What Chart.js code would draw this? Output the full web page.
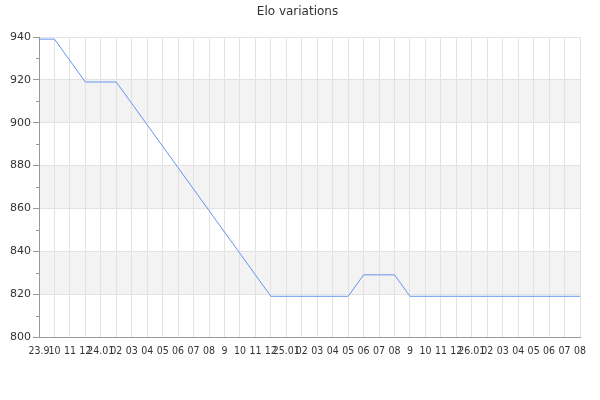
<!DOCTYPE html>
<html lang="en">
<head>
    <meta charset="UTF-8">
    <title>Elo variations</title>
    <style>
        body { margin: 0; padding: 0; background: #fff; }
        #wrap { width: 600px; height: 400px; }
    </style>
</head>
<body>
    <div id="wrap"><canvas id="eloChart" width="600" height="400"></canvas></div>
    <script src="https://cdn.jsdelivr.net/npm/chart.js"></script>
    <script>
        const months = ['23.9', '10', '11', '12', '24.01', '02', '03', '04', '05', '06', '07', '08',
            '9', '10', '11', '12', '25.01', '02', '03', '04', '05', '06', '07', '08',
            '9', '10', '11', '12', '26.01', '02', '03', '04', '05', '06', '07', '08'];
        const elo = [939, 939, 929, 919, 919, 919, 909, 899, 889, 879, 869, 859,
            849, 839, 829, 819, 819, 819, 819, 819, 819, 829, 829, 829,
            819, 819, 819, 819, 819, 819, 819, 819, 819, 819, 819, 819];
        const yMin = 800;
        const yMax = 940;
        const bands = [[820, 840], [860, 880], [900, 920]];

        // grey bands + short minor ticks on the y axis
        const bandPlugin = {
            id: 'bands',
            afterLayout(chart) {
                // title sits a little right of the plot-width centre
                if (chart.titleBlock) chart.titleBlock.left += 15;
            },
            beforeDraw(chart) {
                const { ctx, chartArea, scales } = chart;
                ctx.save();
                ctx.fillStyle = '#f3f3f3';
                bands.forEach(b => {
                    const top = scales.y.getPixelForValue(b[1]);
                    const bottom = scales.y.getPixelForValue(b[0]);
                    ctx.fillRect(chartArea.left, top, chartArea.right - chartArea.left, bottom - top);
                });
                ctx.restore();
            },
            afterDraw(chart) {
                const { ctx, chartArea, scales } = chart;
                ctx.save();
                ctx.strokeStyle = '#999';
                ctx.lineWidth = 1;
                scales.y.ticks.forEach(t => {
                    if (t.value % 20 !== 0) {
                        const y = Math.round(scales.y.getPixelForValue(t.value)) + 0.5;
                        ctx.beginPath();
                        ctx.moveTo(chartArea.left - 3, y);
                        ctx.lineTo(chartArea.left, y);
                        ctx.stroke();
                    }
                });
                ctx.restore();
            }
        };

        new Chart(document.getElementById('eloChart'), {
            type: 'line',
            data: {
                labels: months,
                datasets: [{
                    label: 'Elo',
                    data: elo,
                    borderColor: '#6495ed',
                    borderWidth: 1,
                    pointRadius: 0,
                    tension: 0,
                    fill: false
                }]
            },
            options: {
                responsive: false,
                animation: false,
                layout: { padding: { left: 0, right: 20, top: 0, bottom: 0 } },
                plugins: {
                    legend: { display: false },
                    tooltip: { enabled: false },
                    title: {
                        display: true,
                        text: 'Elo variations',
                        color: '#333',
                        font: { family: 'DejaVu Sans', size: 12, weight: 'normal' },
                        padding: { top: 4.8, bottom: 17.8 }
                    }
                },
                scales: {
                    x: {
                        offset: false,
                        grid: { color: '#e3e3e3', drawTicks: false },
                        border: { color: '#999' },
                        ticks: {
                            autoSkip: false,
                            maxRotation: 0,
                            minRotation: 0,
                            padding: 8,
                            color: '#333',
                            font: { family: 'DejaVu Sans Condensed, DejaVu Sans', size: 10.5 }
                        },
                        afterFit(scale) { scale.height = 63; }
                    },
                    y: {
                        min: yMin,
                        max: yMax,
                        grid: {
                            color: ctx => ctx.tick && ctx.tick.value % 20 === 0 ? '#e3e3e3' : 'rgba(0,0,0,0)',
                            tickColor: ctx => ctx.tick && ctx.tick.value % 20 === 0 ? '#999' : 'rgba(0,0,0,0)',
                            tickLength: 6
                        },
                        border: { color: '#999' },
                        ticks: {
                            stepSize: 10,
                            padding: 2,
                            color: '#333',
                            font: { family: 'DejaVu Sans', size: 11 },
                            callback: v => v % 20 === 0 ? v : ''
                        },
                        afterFit(scale) { scale.width = 39; }
                    }
                }
            },
            plugins: [bandPlugin]
        });
    </script>
</body>
</html>
